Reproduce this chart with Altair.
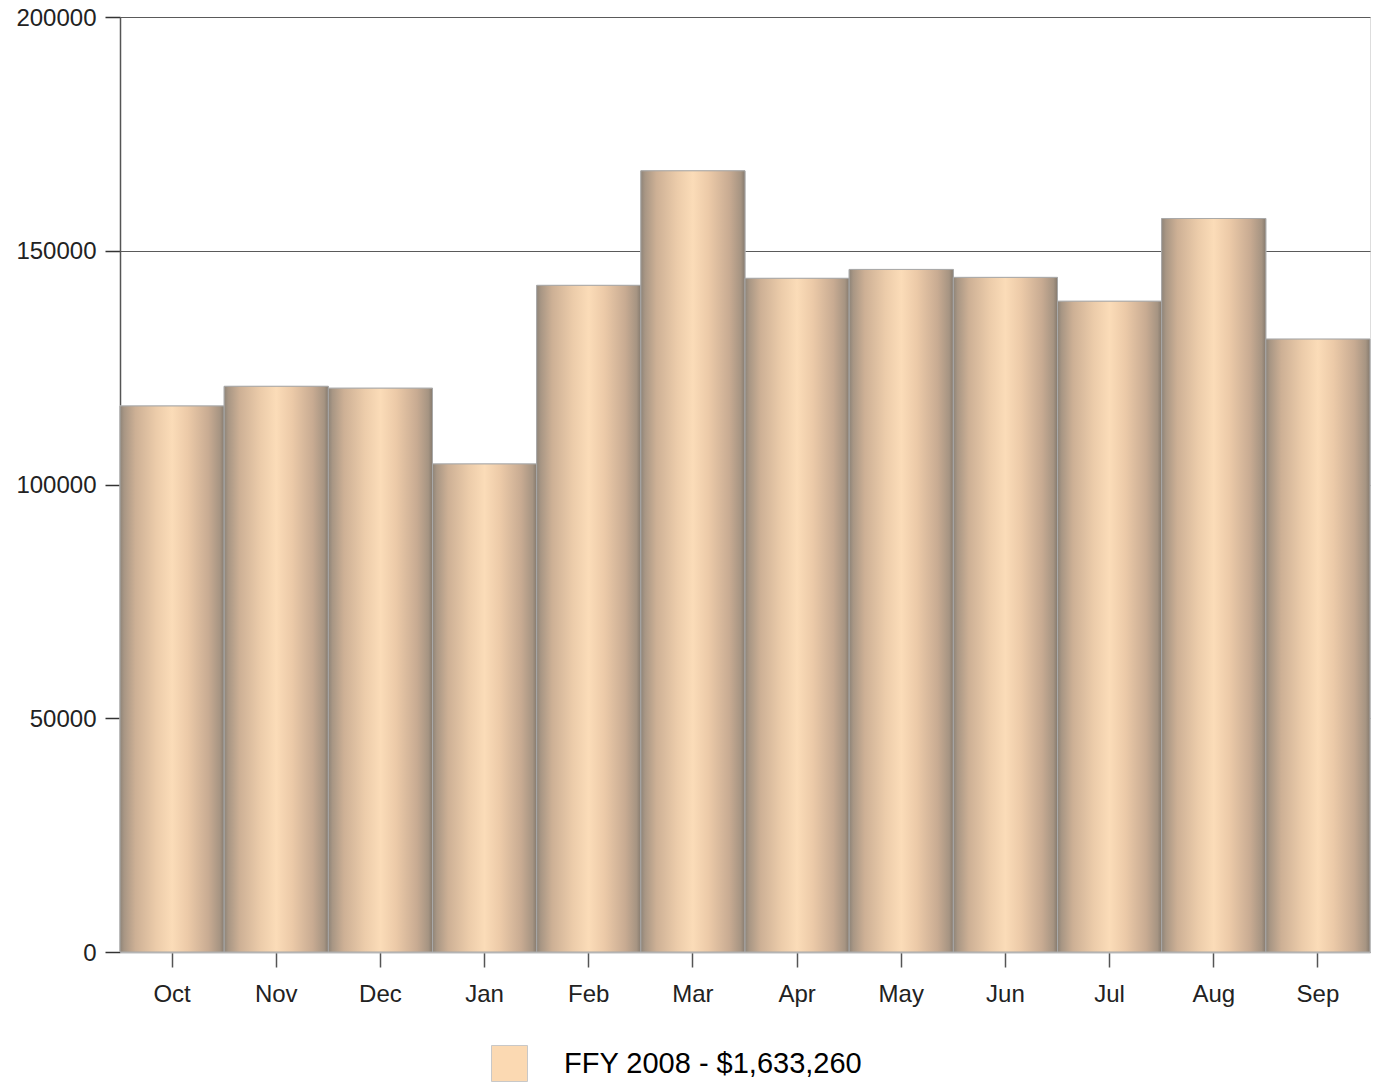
import altair as alt
import pandas as pd

months = ["Oct", "Nov", "Dec", "Jan", "Feb", "Mar", "Apr", "May", "Jun", "Jul", "Aug", "Sep"]
values = [116800, 121000, 120600, 104400, 142600, 167100, 144100, 146000, 144300, 139200, 156900, 131100]
series_name = "FFY 2008 - $1,633,260"
y_ticks = [0, 50000, 100000, 150000, 200000]

df = pd.DataFrame({"month": months, "value": values, "series": [series_name] * len(months)})

font = "Liberation Sans"

x_enc = alt.X(
    "month:N",
    sort=months,
    title=None,
    scale=alt.Scale(paddingInner=0, paddingOuter=0),
    axis=alt.Axis(
        labelAngle=0,
        labelFontSize=24,
        labelFont=font,
        labelColor="#222222",
        labelPadding=15,
        tickSize=15,
        tickColor="#555555",
        tickWidth=1.5,
        domainColor="#bbbbbb",
        domainWidth=2,
        grid=False,
    ),
)
y_enc = alt.Y(
    "value:Q",
    title=None,
    scale=alt.Scale(domain=[0, 200000], nice=False),
    axis=alt.Axis(
        values=y_ticks,
        format="d",
        labelFontSize=24,
        labelFont=font,
        labelColor="#222222",
        labelPadding=9,
        labelOffset=1,
        tickSize=15,
        tickColor="#333333",
        tickWidth=1.5,
        domainColor="#555555",
        domainWidth=1.5,
        grid=True,
        gridColor="#5a5a5a",
        gridWidth=1.2,
    ),
)

gradient = alt.Gradient(
    gradient="linear",
    x1=0, x2=1, y1=0, y2=0,
    stops=[
        alt.GradientStop(color="#8e8478", offset=0),
        alt.GradientStop(color="#a89684", offset=0.04),
        alt.GradientStop(color="#cdb095", offset=0.15),
        alt.GradientStop(color="#ecccaa", offset=0.35),
        alt.GradientStop(color="#fbdcb8", offset=0.5),
        alt.GradientStop(color="#eccaa8", offset=0.65),
        alt.GradientStop(color="#c8ab92", offset=0.85),
        alt.GradientStop(color="#a69482", offset=0.96),
        alt.GradientStop(color="#857a6e", offset=1),
    ],
)

legend_layer = alt.Chart(df).mark_bar(stroke="#c8c8c8", strokeWidth=1).encode(
    x=x_enc,
    y=y_enc,
    color=alt.Color(
        "series:N",
        scale=alt.Scale(range=["#fbd9b2"]),
        legend=alt.Legend(
            title=None,
            orient="none",
            legendX=371,
            legendY=1028,
            padding=0,
            symbolType="square",
            symbolSize=1296,
            symbolStrokeColor="#c8c8c8",
            symbolStrokeWidth=1,
            labelFontSize=29,
            labelFont=font,
            labelColor="#000000",
            labelOffset=36,
            labelLimit=600,
        ),
    ),
)

bars = alt.Chart(df).mark_bar(
    color=gradient,
    stroke="#a8a8a8",
    strokeWidth=1,
).encode(x=x_enc, y=y_enc)

chart = (
    alt.layer(legend_layer, bars)
    .properties(
        width=1250,
        height=935,
        autosize=alt.AutoSizeParams(type="none"),
        padding={"left": 112, "top": 9, "right": 2, "bottom": 131},
    )
    .configure_view(stroke=None)
    .configure(background="white")
)

chart.save("out.html", embed_options={"renderer": "svg", "actions": False})
